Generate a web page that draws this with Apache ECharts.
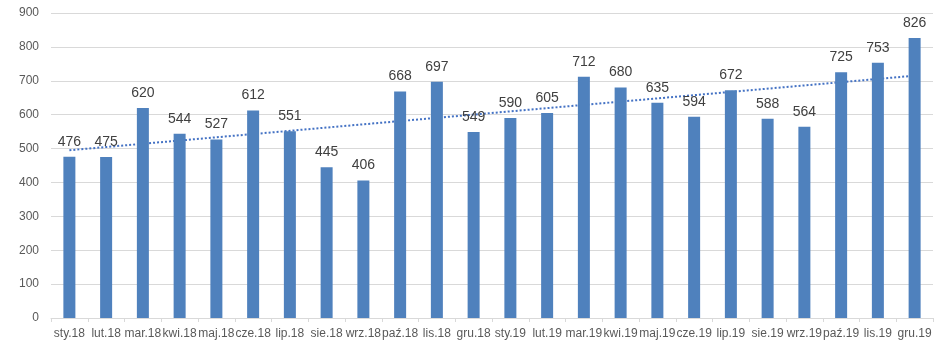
<!DOCTYPE html>
<html>
<head>
<meta charset="utf-8">
<script src="https://cdn.jsdelivr.net/npm/echarts@6/dist/echarts.min.js"></script>
<style>
  html, body { margin: 0; padding: 0; background: #fff; }
  #chart { width: 945px; height: 354px; }
</style>
</head>
<body>
<div id="chart"></div>
<script>
const months = ['sty.18', 'lut.18', 'mar.18', 'kwi.18', 'maj.18', 'cze.18', 'lip.18', 'sie.18', 'wrz.18', 'paź.18', 'lis.18', 'gru.18',
  'sty.19', 'lut.19', 'mar.19', 'kwi.19', 'maj.19', 'cze.19', 'lip.19', 'sie.19', 'wrz.19', 'paź.19', 'lis.19', 'gru.19'];
const values = [476, 475, 620, 544, 527, 612, 551, 445, 406, 668, 697, 549,
  590, 605, 712, 680, 635, 594, 672, 588, 564, 725, 753, 826];
// trend line ends (first and last month)
const trendEnds = [495, 715];

const trend = months.map((m, i) => i === 0 ? trendEnds[0] : (i === months.length - 1 ? trendEnds[1] : null));

const labelColor = '#595959';
const font = '"Liberation Sans", Arial, sans-serif';

const chart = echarts.init(document.getElementById('chart'));
chart.setOption({
  animation: false,
  textStyle: { fontFamily: font },
  grid: { left: 51, right: 12, top: 13, bottom: 36, containLabel: false },
  xAxis: {
    type: 'category',
    data: months,
    axisLine: { lineStyle: { color: '#d9d9d9' } },
    axisTick: { show: true, alignWithLabel: false, length: 4, lineStyle: { color: '#d9d9d9' } },
    axisLabel: { color: labelColor, fontSize: 12, margin: 10, interval: 0, fontFamily: font }
  },
  yAxis: {
    type: 'value',
    min: 0,
    max: 900,
    interval: 100,
    axisLine: { show: false },
    axisTick: { show: false },
    axisLabel: { color: labelColor, fontSize: 12, margin: 12, fontFamily: font },
    splitLine: { lineStyle: { color: '#d9d9d9' } }
  },
  series: [{
    type: 'line',
    data: trend,
    connectNulls: true,
    symbol: 'none',
    lineStyle: { color: '#4472c4', width: 2, type: [2, 2] },
    z: 1
  }, {
    type: 'bar',
    data: values,
    barWidth: 12,
    z: 3,
    itemStyle: { color: '#4f81bd' },
    label: {
      show: true,
      position: 'top',
      distance: 8,
      color: '#404040',
      fontSize: 14,
      fontFamily: font
    }
  }]
});
</script>
</body>
</html>
